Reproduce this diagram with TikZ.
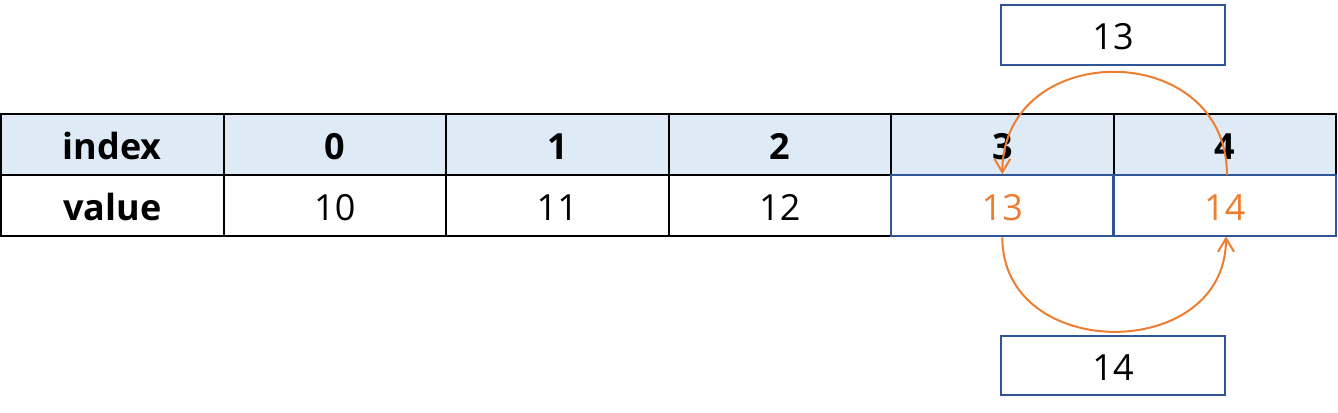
\documentclass[tikz,border=0pt]{standalone}
\usepackage{fontspec}
\setmainfont{Open Sans}
\usetikzlibrary{arrows.meta}
\definecolor{hdrfill}{HTML}{DEEAF6}
\definecolor{boxblue}{HTML}{2F5597}
\definecolor{swaporange}{HTML}{ED7D31}
\tikzset{
  txt/.style={font=\fontsize{27pt}{30pt}\selectfont, text height=22pt, text depth=0pt},
  cell/.style={draw=black, line width=1.5pt, minimum width=166.9pt, minimum height=45.75pt, inner sep=0pt, txt},
  hcell/.style={cell, fill=hdrfill, font=\fontsize{27pt}{30pt}\selectfont\bfseries},
  vcell/.style={cell},
  hot/.style={draw=boxblue, text=swaporange, line width=1.7pt},
  tmpbox/.style={draw=boxblue, line width=1.5pt, minimum width=168pt, minimum height=44.5pt, inner sep=0pt, txt},
  swap/.style={draw=swaporange, line width=1.5pt, -{Straight Barb[length=10pt,width=12pt,line width=1.5pt]}}
}
\begin{document}
\begin{tikzpicture}[x=0.75pt, y=-0.75pt]
\useasboundingbox (0,0) rectangle (1338,412);
% header row
\node[hcell] (h0) at (112.3,144.7) {index};
\node[hcell] (h1) at (334.8,144.7) {0};
\node[hcell] (h2) at (557.3,144.7) {1};
\node[hcell] (h3) at (779.8,144.7) {2};
\node[hcell] (h4) at (1002.3,144.7) {3};
\node[hcell] (h5) at (1224.8,144.7) {4};
% value row
\node[vcell, font=\fontsize{27pt}{30pt}\selectfont\bfseries] (v0) at (112.3,205.7) {value};
\node[vcell] (v1) at (334.8,205.7) {10};
\node[vcell] (v2) at (557.3,205.7) {11};
\node[vcell] (v3) at (779.8,205.7) {12};
\node[vcell, hot] (v4) at (1002.3,205.7) {13};
\node[vcell, hot] (v5) at (1224.8,205.7) {14};
% temporary boxes
\node[tmpbox] (t1) at (1113,35) {13};
\node[tmpbox] (t2) at (1113,365.5) {14};
% swap arrows
\coordinate (a1) at (1227,175.2);
\draw[swap] (a1) .. controls (1227,38) and (1003,38) .. (v4.north);
\coordinate (a2) at (1226,236.5);
\draw[swap] (v4.south) .. controls (1002.3,363) and (1226,363) .. (a2);
\end{tikzpicture}
\end{document}
